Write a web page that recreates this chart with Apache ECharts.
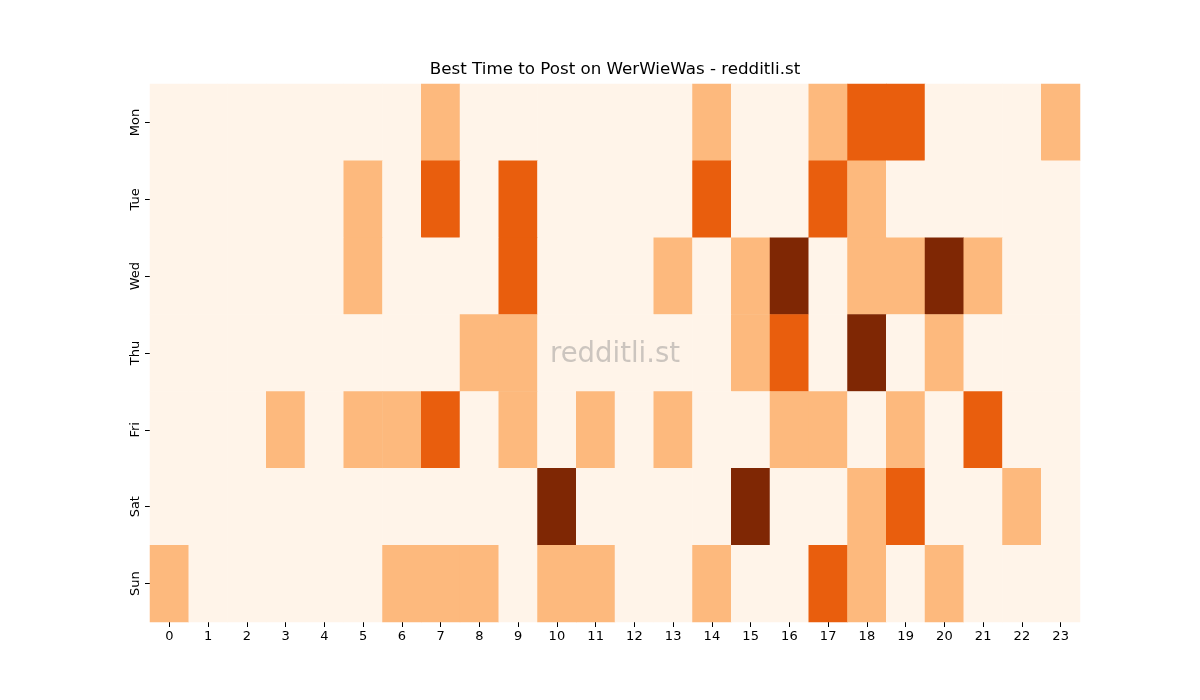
<!DOCTYPE html>
<html lang="en">
<head>
    <meta charset="utf-8">
    <title>Best Time to Post</title>
    <script src="https://cdn.jsdelivr.net/npm/echarts@6/dist/echarts.min.js"></script>
</head>
<body style="margin:0">
<div id="main" style="width:1200px;height:700px;"></div>
<script>
// categories
var days = ['Mon', 'Tue', 'Wed', 'Thu', 'Fri', 'Sat', 'Sun'];
var hours = ['0','1','2','3','4','5','6','7','8','9','10','11','12','13','14','15','16','17','18','19','20','21','22','23'];

// post counts per hour, one row per day
var mon = [0,0,0,0,0,0,0,1,0,0,0,0,0,0,1,0,0,1,2,2,0,0,0,1];
var tue = [0,0,0,0,0,1,0,2,0,2,0,0,0,0,2,0,0,2,1,0,0,0,0,0];
var wed = [0,0,0,0,0,1,0,0,0,2,0,0,0,1,0,1,3,0,1,1,3,1,0,0];
var thu = [0,0,0,0,0,0,0,0,1,1,0,0,0,0,0,1,2,0,3,0,1,0,0,0];
var fri = [0,0,0,1,0,1,1,2,0,1,0,1,0,1,0,0,1,1,0,1,0,2,0,0];
var sat = [0,0,0,0,0,0,0,0,0,0,3,0,0,0,0,3,0,0,1,2,0,0,1,0];
var sun = [1,0,0,0,0,0,1,1,1,0,1,1,0,0,1,0,0,2,1,0,1,0,0,0];

var rows = [mon, tue, wed, thu, fri, sat, sun];
var cells = [];
rows.forEach(function (row, d) {
    row.forEach(function (v, h) { cells.push([h, d, v]); });
});

var myChart = echarts.init(document.getElementById('main'));
myChart.setOption({
    animation: false,
    textStyle: {fontFamily: 'DejaVu Sans'},
    grid: {left: 150, right: 120, top: 84, bottom: 78},
    xAxis: {
        type: 'category', data: hours,
        axisLine: {show: false},
        axisTick: {show: true, alignWithLabel: true, length: 5, lineStyle: {color: '#000'}},
        axisLabel: {color: '#000', fontSize: 13, margin: 8},
        splitLine: {show: false}
    },
    yAxis: {
        type: 'category', data: days, inverse: true,
        axisLine: {show: false},
        axisTick: {show: true, alignWithLabel: true, length: 5, lineStyle: {color: '#000'}},
        axisLabel: {color: '#000', fontSize: 13, rotate: 90, margin: 8},
        splitLine: {show: false}
    },
    visualMap: {
        show: false, type: 'piecewise', dimension: 2,
        pieces: [
            {value: 0, color: '#fff4e9'},
            {value: 1, color: '#fdb97d'},
            {value: 2, color: '#e95e0d'},
            {value: 3, color: '#7f2704'}
        ]
    },
    graphic: [{
        // title, centred over the plot area
        type: 'text', x: 615, y: 70, z: 100,
        style: {text: 'Best Time to Post on WerWieWas - redditli.st', fontSize: 16.7,
                fill: '#000', fontFamily: 'DejaVu Sans', align: 'center', verticalAlign: 'middle'}
    }, {
        type: 'text', x: 615, y: 355, z: 100,
        style: {text: 'redditli.st', fontSize: 27.5, fill: 'rgba(128,128,128,0.4)',
                fontFamily: 'DejaVu Sans', align: 'center', verticalAlign: 'middle'}
    }],
    series: [{
        type: 'heatmap', data: cells,
        itemStyle: {borderWidth: 0}
    }]
});
</script>
</body>
</html>
